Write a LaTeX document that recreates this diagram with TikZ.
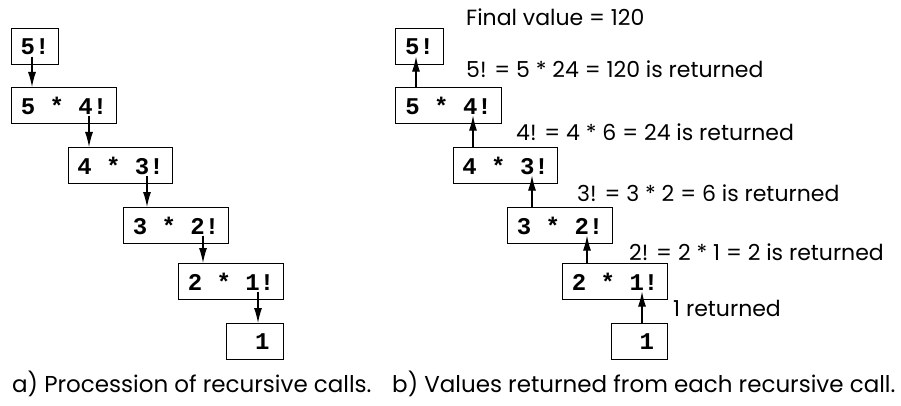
\documentclass[tikz,border=0pt]{standalone}
\usepackage{fontspec}
\setmainfont{Poppins}
\newfontfamily\boxfont{Liberation Mono}
\usetikzlibrary{arrows.meta}
\tikzset{
  callbox/.style={draw, line width=1.2pt, anchor=north west, inner sep=0pt,
    minimum height=36pt, font=\boxfont\bfseries\fontsize{24}{24}\selectfont},
  retlabel/.style={anchor=west, inner sep=0pt, font=\fontsize{22}{22}\selectfont},
  caption/.style={anchor=base west, inner sep=0pt, font=\fontsize{23}{23}\selectfont},
  call/.style={line width=1.1pt, -{Latex[length=15pt,width=8pt]}},
}
\begin{document}
\begin{tikzpicture}[x=1pt,y=-1pt]
  \useasboundingbox (0,0) rectangle (901,406);

  % a) procession of calls
  \node[callbox, minimum width=47pt]  (l1) at (11,28)  {5!};
  \node[callbox, minimum width=105pt] (l2) at (11,87)  {5 * 4!};
  \node[callbox, minimum width=104pt] (l3) at (68,147) {4 * 3!};
  \node[callbox, minimum width=105pt] (l4) at (123,207) {3 * 2!};
  \node[callbox, minimum width=105pt] (l5) at (178,263) {2 * 1!};
  \node[callbox, minimum width=57pt]  (l6) at (226,323) {\phantom{0}1};

  \path ([xshift=21pt,yshift=-10pt]l1.west) coordinate (s1);
  \path ([xshift=78pt,yshift=-10pt]l2.west) coordinate (s2);
  \path ([xshift=79pt,yshift=-10pt]l3.west) coordinate (s3);
  \path ([xshift=80pt,yshift=-10pt]l4.west) coordinate (s4);
  \path ([xshift=80pt,yshift=-10pt]l5.west) coordinate (s5);
  \draw[call] (s1) -- (s1 |- l2.north);
  \draw[call] (s2) -- (s2 |- l3.north);
  \draw[call] (s3) -- (s3 |- l4.north);
  \draw[call] (s4) -- (s4 |- l5.north);
  \draw[call] (s5) -- (s5 |- l6.north);

  % b) values handed back
  \node[callbox, minimum width=48pt]  (r1) at (395,28)  {5!};
  \node[callbox, minimum width=106pt] (r2) at (395,87)  {5 * 4!};
  \node[callbox, minimum width=104pt] (r3) at (453,147) {4 * 3!};
  \node[callbox, minimum width=105pt] (r4) at (507,207) {3 * 2!};
  \node[callbox, minimum width=105pt] (r5) at (562,263) {2 * 1!};
  \node[callbox, minimum width=56pt]  (r6) at (611,323) {\phantom{0}1};

  \path ([xshift=21pt,yshift=-10pt]r1.west) coordinate (t1);
  \path ([xshift=78pt,yshift=-10pt]r2.west) coordinate (t2);
  \path ([xshift=79pt,yshift=-10pt]r3.west) coordinate (t3);
  \path ([xshift=80pt,yshift=-10pt]r4.west) coordinate (t4);
  \path ([xshift=80pt,yshift=-10pt]r5.west) coordinate (t5);
  \draw[call] (t1 |- r2.north) -- (t1);
  \draw[call] (t2 |- r3.north) -- (t2);
  \draw[call] (t3 |- r4.north) -- (t3);
  \draw[call] (t4 |- r5.north) -- (t4);
  \draw[call] (t5 |- r6.north) -- (t5);

  \node[retlabel] (final) at (466,17)  {Final value = 120};
  \node[retlabel] (ret5)  at (466,69)  {5! = 5 * 24 = 120 is returned};
  \node[retlabel] (ret4)  at (516,132) {4! = 4 * 6 = 24 is returned};
  \node[retlabel] (ret3)  at (577,193) {3! = 3 * 2 = 6 is returned};
  \node[retlabel] (ret2)  at (629,252) {2! = 2 * 1 = 2 is returned};
  \node[retlabel] (ret1)  at (673,308) {1 returned};

  % captions
  \node[caption] (capa) at (12,392)  {a) Procession of recursive calls.};
  \node[caption] (capb) at (392,392) {b) Values returned from each recursive call.};
\end{tikzpicture}
\end{document}
